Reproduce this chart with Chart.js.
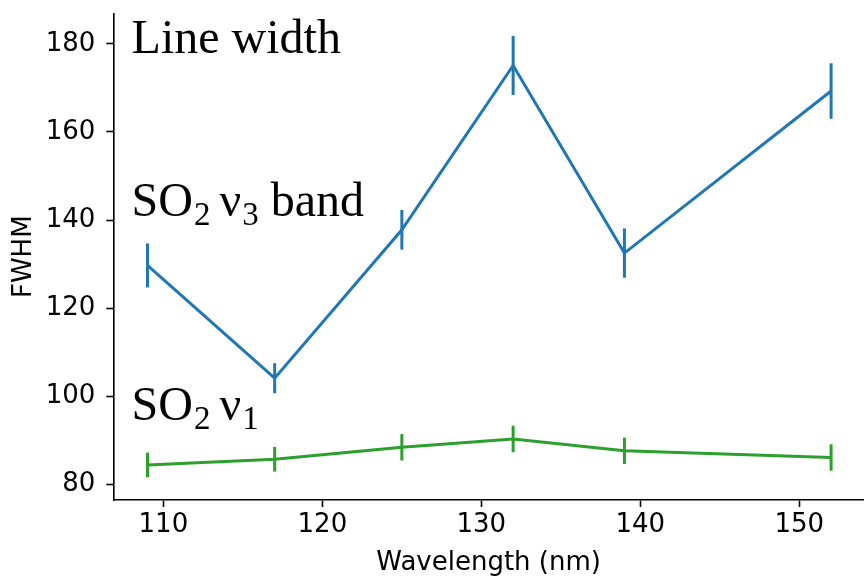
<!DOCTYPE html>
<html>
<head>
<meta charset="utf-8">
<script src="https://cdn.jsdelivr.net/npm/chart.js@4/dist/chart.umd.min.js"></script>
<style>
  html, body { margin: 0; padding: 0; background: #ffffff; }
  #myChart { display: block; }
</style>
</head>
<body>
<canvas id="myChart" width="864" height="576"></canvas>
<script>
// data
var wavelengths = [109, 117, 125, 132, 139, 152];
var so2v3 = [129.7, 104.1, 137.8, 175.1, 132.5, 169.3];
var so2v3Err = [5.0, 3.4, 4.5, 6.7, 5.6, 6.3];
var so2v1 = [84.4, 85.7, 88.4, 90.3, 87.6, 86.1];
var so2v1Err = [2.8, 2.8, 3.0, 3.0, 3.0, 3.0];
var xTicks = [110, 120, 130, 140, 150];
var yTicks = [80, 100, 120, 140, 160, 180];

// text labels inside the axes: [text, kind] runs (0 normal, 1 subscript, 2 narrow space)
var notes = [
    {x: 108, y: 177.9, runs: [['Line width', 0]]},
    {x: 108, y: 141.0, runs: [['SO', 0], ['2', 1], [' ', 2], ['\u03bd', 0], ['3', 1], [' band', 0]]},
    {x: 108, y: 94.7, runs: [['SO', 0], ['2', 1], [' ', 2], ['\u03bd', 0], ['1', 1]]}
];

var blue = '#1f77b4';
var green = '#2ca02c';

function toPoints(xs, ys){
    var pts = [];
    for (var i in xs) {
        pts.push({x: xs[i], y: ys[i]});
    }
    return pts;
}

var errorBars = {
    id: 'errorBars',
    beforeDatasetsDraw: function(chart){
        var ctx = chart.ctx;
        var xs = chart.scales.x;
        var ys = chart.scales.y;
        chart.data.datasets.forEach(function(ds){
            ctx.save();
            ctx.strokeStyle = ds.borderColor;
            ctx.lineWidth = 3;
            for (var i = 0; i < ds.data.length; i++) {
                var p = ds.data[i];
                var px = xs.getPixelForValue(p.x);
                ctx.beginPath();
                ctx.moveTo(px, ys.getPixelForValue(p.y - ds.errors[i]));
                ctx.lineTo(px, ys.getPixelForValue(p.y + ds.errors[i]));
                ctx.stroke();
            }
            ctx.restore();
        });
    }
};

var textNotes = {
    id: 'textNotes',
    afterDraw: function(chart){
        var ctx = chart.ctx;
        ctx.save();
        ctx.fillStyle = '#000000';
        ctx.textBaseline = 'alphabetic';
        ctx.textAlign = 'left';
        for (var note of notes) {
            var px = chart.scales.x.getPixelForValue(note.x);
            var py = chart.scales.y.getPixelForValue(note.y);
            for (var run of note.runs) {
                if (run[1] == 1) {
                    ctx.font = '33px "Liberation Serif"';
                    ctx.fillText(run[0], px + 1, py + 9);
                    px += 1;
                } else if (run[1] == 2) {
                    ctx.font = '36px "Liberation Serif"';
                } else {
                    ctx.font = '48px "Liberation Serif"';
                    ctx.fillText(run[0], px, py);
                }
                px += ctx.measureText(run[0]).width;
            }
        }
        ctx.restore();
    }
};

var tickFont = {family: '"DejaVu Sans"', size: 26};

var ctx = document.getElementById('myChart').getContext('2d');
var chart = new Chart(ctx, {
    type: 'line',
    data: {
        datasets: [{
            label: 'SO2 v3 band',
            data: toPoints(wavelengths, so2v3),
            errors: so2v3Err,
            borderColor: blue,
            borderWidth: 3,
            pointRadius: 0,
            tension: 0,
            fill: false
        }, {
            label: 'SO2 v1',
            data: toPoints(wavelengths, so2v1),
            errors: so2v1Err,
            borderColor: green,
            borderWidth: 3,
            pointRadius: 0,
            tension: 0,
            fill: false
        }]
    },
    options: {
        responsive: false,
        animation: false,
        layout: {padding: {top: 13.5, right: 0, left: 0, bottom: 0}},
        plugins: {
            legend: {display: false},
            tooltip: {enabled: false}
        },
        scales: {
            x: {
                type: 'linear',
                min: 106.85,
                max: 154.07,
                afterBuildTicks: function(scale){
                    scale.ticks = xTicks.map(function(v){ return {value: v}; });
                },
                afterFit: function(scale){
                    scale.height = 76;
                    scale.paddingLeft = 0;
                    scale.paddingRight = 0;
                },
                grid: {drawOnChartArea: false, drawTicks: true, tickLength: 7, tickWidth: 1.6, tickColor: '#000000'},
                border: {display: true, color: '#000000', width: 1.6},
                ticks: {color: '#000000', font: tickFont, padding: 3, maxRotation: 0},
                title: {display: true, text: 'Wavelength (nm)', color: '#000000', font: tickFont, padding: {top: 0, bottom: -3}}
            },
            y: {
                type: 'linear',
                min: 76.44,
                max: 186.9,
                afterBuildTicks: function(scale){
                    scale.ticks = yTicks.map(function(v){ return {value: v}; });
                },
                afterFit: function(scale){
                    scale.width = 113.3;
                    scale.paddingTop = 0;
                    scale.paddingBottom = 0;
                },
                grid: {drawOnChartArea: false, drawTicks: true, tickLength: 7, tickWidth: 1.6, tickColor: '#000000'},
                border: {display: true, color: '#000000', width: 1.6},
                ticks: {color: '#000000', font: tickFont, padding: 11},
                title: {display: true, text: 'FWHM', color: '#000000', font: tickFont, padding: {top: 9, bottom: 0}}
            }
        }
    },
    plugins: [errorBars, textNotes]
});
</script>
</body>
</html>
